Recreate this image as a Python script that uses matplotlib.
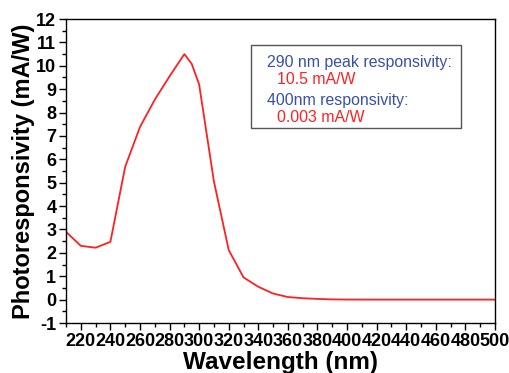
import numpy as np
import matplotlib.pyplot as plt
from matplotlib.ticker import MultipleLocator

plt.rcParams['font.family'] = ['Liberation Sans', 'DejaVu Sans']
plt.rcParams['axes.unicode_minus'] = False

# wavelength (nm) and photoresponsivity (mA/W)
wavelength = [210, 220, 230, 240, 250, 260, 270, 280, 290, 295, 300, 310, 320,
              330, 340, 350, 360, 370, 380, 390, 400, 420, 440, 460, 480, 500]
responsivity = [2.9, 2.3, 2.22, 2.47, 5.68, 7.38, 8.55, 9.55, 10.5, 10.08, 9.2,
                5.05, 2.12, 0.95, 0.55, 0.26, 0.11, 0.06, 0.03, 0.01, 0.003,
                0.0, 0.0, 0.0, 0.0, 0.0]

xticks = list(range(220, 501, 20))

fig = plt.figure(figsize=(5.1, 3.73), dpi=100)
ax = fig.add_axes([66/510, 1 - 323/373, (495-66)/510, (323-19)/373])

ax.plot(wavelength, responsivity, color='#ff2020', lw=1.3)

ax.set_xlim(210, 500)
ax.set_ylim(-1, 12)
ax.set_xticks(xticks)
ax.xaxis.set_minor_locator(MultipleLocator(10))
ax.yaxis.set_major_locator(MultipleLocator(1))
ax.yaxis.set_minor_locator(MultipleLocator(0.5))
ax.tick_params(which='both', direction='out', top=False, right=False)
ax.tick_params(which='major', length=5, width=1, labelsize=13, pad=2)
ax.tick_params(which='minor', length=3, width=1)
for lab in ax.get_xticklabels() + ax.get_yticklabels():
    lab.set_fontweight('bold')
for s in ax.spines.values():
    s.set_linewidth(1)

ax.set_xlabel('Wavelength (nm)', fontsize=17.5, fontweight='bold', labelpad=1)
ax.set_ylabel('Photoresponsivity (mA/W)', fontsize=17, fontweight='bold', labelpad=1)

# annotation box
box = plt.Rectangle((251/510, 1 - 128/373), (461-251)/510, (128-45)/373,
                    transform=fig.transFigure, fill=False, edgecolor='#555555', lw=1)
fig.add_artist(box)
blue = '#3850a8'
red = '#ff2020'
fig.text(267/510, 1 - 62/373, '290 nm peak responsivity:', color=blue, fontsize=11.4, va='center')
fig.text(277/510, 1 - 80/373, '10.5 mA/W', color=red, fontsize=11.4, va='center')
fig.text(267/510, 1 - 100/373, '400nm responsivity:', color=blue, fontsize=11.4, va='center')
fig.text(277/510, 1 - 117/373, '0.003 mA/W', color=red, fontsize=11.4, va='center')

plt.savefig('out.png', dpi=100)
